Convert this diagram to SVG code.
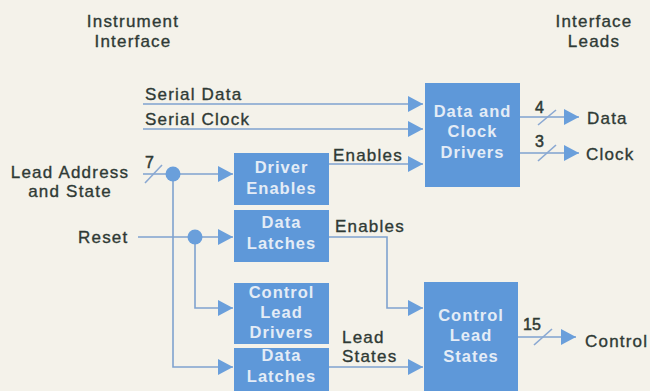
<svg xmlns="http://www.w3.org/2000/svg" width="650" height="391" viewBox="0 0 650 391">
<defs>
<style>
.lbl{font-family:"Liberation Sans",Arial,sans-serif;font-size:17px;letter-spacing:1.2px;fill:#2f3a35;stroke:#2f3a35;stroke-width:0.35px}
.num{font-family:"Liberation Sans",Arial,sans-serif;font-size:16px;fill:#2f3a35;stroke:#2f3a35;stroke-width:0.5px}
.box{fill:#5e98d9}
.bt{font-family:"Liberation Sans",Arial,sans-serif;font-size:16.5px;font-weight:bold;letter-spacing:1px;fill:#e4ecf6;text-anchor:middle}
.ln{fill:none;stroke:#7fa2cf;stroke-width:1.6}
.sl{stroke:#8aa8d2;stroke-width:1.6}
.dot{fill:#6a9fdb}
</style>
<marker id="arr" markerUnits="userSpaceOnUse" markerWidth="18" markerHeight="18" viewBox="0 0 18 18" refX="16" refY="9" orient="auto">
<path d="M1,1 L16,9 L1,17 Z" fill="#6a9fdb"/>
</marker>
</defs>
<rect width="650" height="391" fill="#f4f2ea"/>

<g id="headings">
<text class="lbl" x="133" y="27" text-anchor="middle">Instrument</text>
<text class="lbl" x="133" y="47" text-anchor="middle">Interface</text>
<text class="lbl" x="594" y="27" text-anchor="middle">Interface</text>
<text class="lbl" x="594" y="47" text-anchor="middle">Leads</text>
</g>

<g id="inputs">
<text class="lbl" x="145" y="100">Serial Data</text>
<text class="lbl" x="145" y="125">Serial Clock</text>
<text class="lbl" x="70" y="178" text-anchor="middle">Lead Address</text>
<text class="lbl" x="70" y="197" text-anchor="middle">and State</text>
<text class="lbl" x="78" y="243">Reset</text>
</g>

<g id="connectors">
<path class="ln" d="M143,104 H423" marker-end="url(#arr)"/>
<path class="ln" d="M143,129 H423" marker-end="url(#arr)"/>
<path class="ln" d="M143,174 H233" marker-end="url(#arr)"/>
<path class="ln" d="M173,174 V367 H233" marker-end="url(#arr)"/>
<path class="ln" d="M138,237 H233" marker-end="url(#arr)"/>
<path class="ln" d="M195,237 V308 H233" marker-end="url(#arr)"/>
<path class="ln" d="M329,164 H423" marker-end="url(#arr)"/>
<path class="ln" d="M329,237 H387 V308 H423" marker-end="url(#arr)"/>
<path class="ln" d="M329,367 H423" marker-end="url(#arr)"/>
<path class="ln" d="M520,117 H579" marker-end="url(#arr)"/>
<path class="ln" d="M520,153 H579" marker-end="url(#arr)"/>
<path class="ln" d="M518,337 H576" marker-end="url(#arr)"/>
<line class="sl" x1="145" y1="183" x2="162" y2="165"/>
<line class="sl" x1="538" y1="125" x2="556" y2="110"/>
<line class="sl" x1="538" y1="161" x2="556" y2="145"/>
<line class="sl" x1="534" y1="345" x2="552" y2="329"/>
<circle class="dot" cx="173" cy="174" r="7.5"/>
<circle class="dot" cx="195" cy="237" r="7.5"/>
<text class="num" x="145" y="168">7</text>
<text class="num" x="535" y="113">4</text>
<text class="num" x="535" y="147">3</text>
<text class="num" x="523" y="330">15</text>
<text class="lbl" x="333" y="161">Enables</text>
<text class="lbl" x="335" y="232">Enables</text>
<text class="lbl" x="342" y="343">Lead</text>
<text class="lbl" x="342" y="362">States</text>
</g>

<g id="driver-enables">
<rect class="box" x="234" y="153" width="95" height="52"/>
<text class="bt" x="281.5" y="173">Driver</text>
<text class="bt" x="281.5" y="194">Enables</text>
</g>

<g id="data-latches-1">
<rect class="box" x="234" y="210" width="95" height="52"/>
<text class="bt" x="281.5" y="228">Data</text>
<text class="bt" x="281.5" y="249">Latches</text>
</g>

<g id="control-lead-drivers">
<rect class="box" x="234" y="283" width="95" height="61"/>
<text class="bt" x="281.5" y="298">Control</text>
<text class="bt" x="281.5" y="318">Lead</text>
<text class="bt" x="281.5" y="338">Drivers</text>
</g>

<g id="data-latches-2">
<rect class="box" x="234" y="348" width="95" height="43"/>
<text class="bt" x="281.5" y="361">Data</text>
<text class="bt" x="281.5" y="382">Latches</text>
</g>

<g id="data-clock-drivers">
<rect class="box" x="425" y="83" width="95" height="104"/>
<text class="bt" x="472.5" y="117">Data and</text>
<text class="bt" x="472.5" y="137">Clock</text>
<text class="bt" x="472.5" y="158">Drivers</text>
</g>

<g id="control-lead-states">
<rect class="box" x="424" y="282" width="94" height="109"/>
<text class="bt" x="471" y="321">Control</text>
<text class="bt" x="471" y="341">Lead</text>
<text class="bt" x="471" y="362">States</text>
</g>

<g id="outputs">
<text class="lbl" x="587" y="124">Data</text>
<text class="lbl" x="586" y="160">Clock</text>
<text class="lbl" x="585" y="347">Control</text>
</g>
</svg>
